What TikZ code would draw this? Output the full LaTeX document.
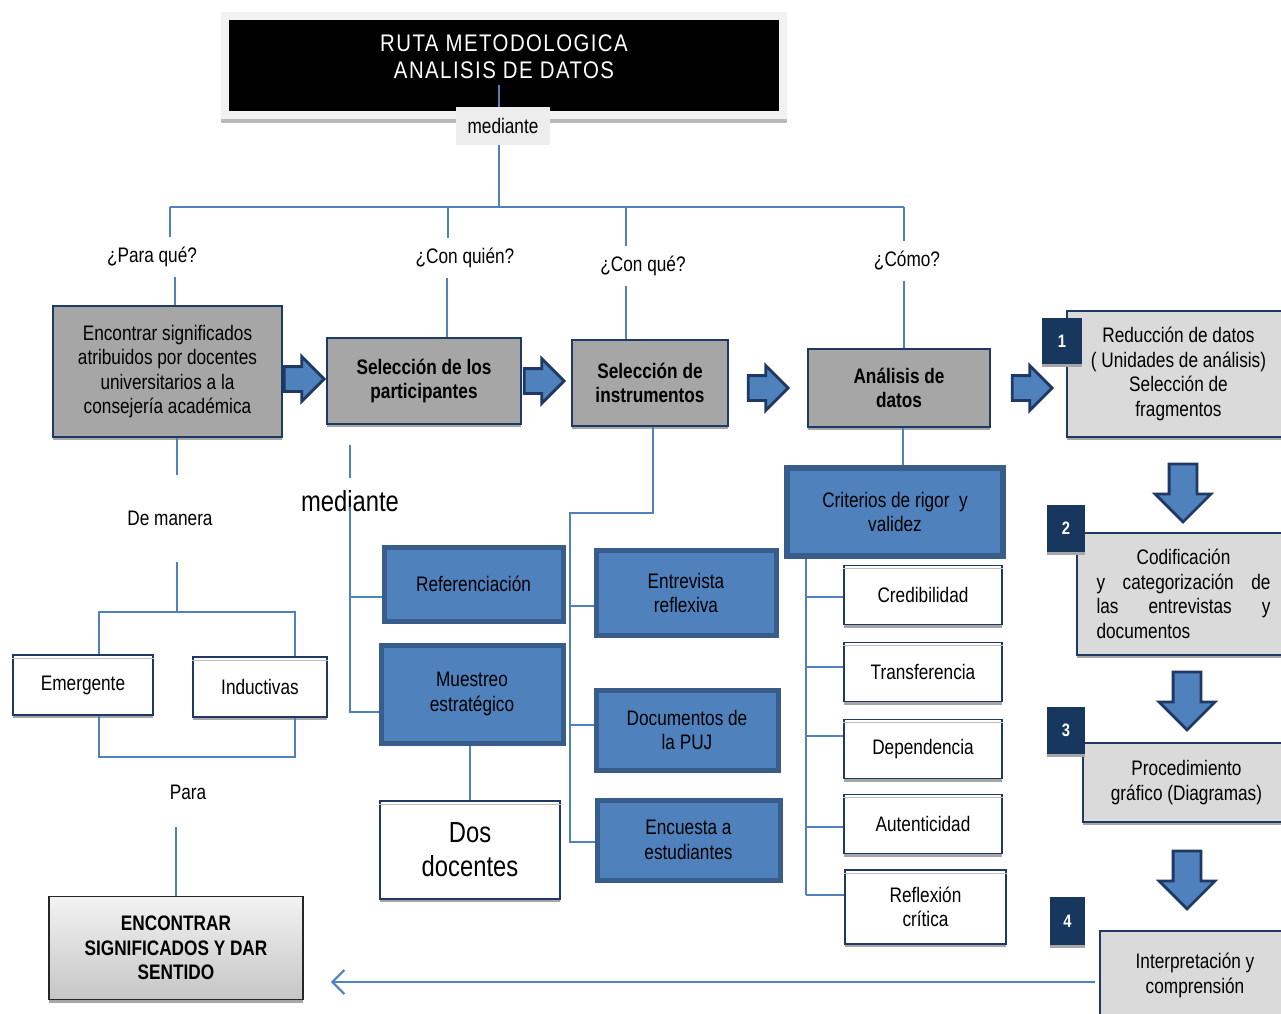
\documentclass[tikz,border=0pt]{standalone}
\usepackage{fontspec}
\setmainfont{Liberation Sans}[FakeStretch=0.82]
\newfontfamily\titlefont{Liberation Sans}[FakeStretch=0.85,LetterSpace=6]
\usetikzlibrary{shapes.arrows,shadows,arrows.meta,positioning}
\definecolor{navy}{RGB}{31,56,100}
\definecolor{badgeblue}{RGB}{23,55,94}
\definecolor{midblue}{RGB}{79,129,189}
\definecolor{edgeblue}{RGB}{56,93,138}
\definecolor{boxgray}{RGB}{166,166,166}
\definecolor{lightgray}{RGB}{218,218,218}
\newcommand{\fsz}{\fontsize{21pt}{24.5pt}\selectfont}
\newcommand{\fbig}{\fontsize{29pt}{34pt}\selectfont}
\tikzset{
  link/.style={draw=midblue,line width=2.2pt},
  shade box/.style={drop shadow={shadow xshift=0pt,shadow yshift=-3pt,fill=gray!70,opacity=1}},
  graybox/.style={draw=navy,line width=1.6pt,fill=boxgray,align=center,font=\fsz,inner sep=0pt,shade box},
  lightbox/.style={draw=navy,line width=1.6pt,fill=lightgray,align=center,font=\fsz,inner sep=0pt,shade box},
  bluebox/.style={draw=edgeblue,line width=5pt,fill=midblue,align=center,font=\fsz,inner sep=0pt},
  whitebox/.style={draw=navy,line width=1.6pt,fill=white,align=center,font=\fsz,inner sep=0pt,shade box,
    append after command={([yshift=-4pt]\tikzlastnode.north west) edge[draw=gray!50,line width=1.4pt] ([yshift=-4pt]\tikzlastnode.north east)}},
  badge/.style={fill=badgeblue,text=white,font=\fontsize{18pt}{20pt}\selectfont\bfseries,inner sep=0pt,shade box},
  qlabel/.style={font=\fsz,inner sep=10pt},
  rarrow/.style={single arrow,draw=navy,line width=2.8pt,fill=midblue,inner xsep=0pt,inner ysep=11pt,
    minimum height=40pt,minimum width=42pt,single arrow head extend=10pt},
  darrow/.style={rarrow,shape border rotate=270,inner sep=12.5pt,minimum height=58pt,minimum width=54pt,single arrow head extend=14pt}
}
\begin{document}
\begin{tikzpicture}[x=1pt,y=-1pt]
\clip (0,0) rectangle (1281,1013);
\fill[white] (0,0) rectangle (1281,1013);
% title
\fill[gray!10] (221,12) rectangle (787,119);
\fill[gray!55] (221,119) rectangle (787,123);
\fill[black] (229,20) rectangle (779,111);
\node[text=white,align=center,inner sep=0pt,font=\titlefont\fontsize{24pt}{27pt}\selectfont] (title) at (504,57)
  {RUTA METODOLOGICA\\ANALISIS DE DATOS};
\node[fill=gray!14,font=\fsz,inner sep=0pt,minimum width=94pt,minimum height=38pt] (medlbl) at (503,126) {mediante};
\coordinate (ttop) at (499,85);
\coordinate (hub) at (499,207);
\coordinate (hl) at (170,207);
\coordinate (hr) at (904,207);
\coordinate (h2) at (448,207);
\coordinate (h3) at (626,207);
\draw[link] (ttop) -- (medlbl.north -| hub);
\draw[link] (medlbl.south -| hub) -- (hub);
\draw[link] (hl) -- (hr);

% questions
\node[qlabel] (qpara) at (152,257) {¿Para qué?};
\node[qlabel] (qquien) at (465,258) {¿Con quién?};
\node[qlabel] (qque) at (643,266) {¿Con qué?};
\node[qlabel] (qcomo) at (907,261) {¿Cómo?};

% main row
\node[graybox,minimum width=229pt,minimum height=131pt] (A) at (167.5,371.5)
  {Encontrar significados\\atribuidos por docentes\\universitarios a la\\consejería académica};
\node[graybox,font=\fsz\bfseries,minimum width=194pt,minimum height=86pt] (B) at (424,381) {Selección de los\\participantes};
\node[graybox,font=\fsz\bfseries,minimum width=156pt,minimum height=86pt] (C) at (650,383) {Selección de\\instrumentos};
\node[graybox,font=\fsz\bfseries,minimum width=182pt,minimum height=78pt] (D) at (899,388) {Análisis de\\datos};
\node[rarrow] (ar1) at (298,379) {};
\node[rarrow] (ar2) at (538,381) {};
\node[rarrow] (ar3) at (762,388) {};
\node[rarrow] (ar4) at (1026,388) {};

\draw[link] (hl) -- (qpara.north -| hl);
\draw[link] (h2) -- (qquien.north -| h2);
\draw[link] (h3) -- (qque.north -| h3);
\draw[link] (hr) -- (qcomo.north -| hr);
\draw[link] (qpara.south -| 175,0) -- (A.north -| 175,0);
\draw[link] (qquien.south -| 447,0) -- (B.north -| 447,0);
\draw[link] (qque.south -| h3) -- (C.north -| h3);
\draw[link] (qcomo.south -| hr) -- (D.north -| hr);

% steps on the right
\node[lightbox,minimum width=223pt,minimum height=126pt] (p1) at (1178.5,374)
  {Reducción de datos\\( Unidades de análisis)\\Selección de\\fragmentos};
\node[badge,minimum width=40pt,minimum height=46pt] (b1) at (1062,341) {1};
\node[darrow] (dar1) at (1183,486) {};
\node[lightbox,minimum width=213pt,minimum height=122pt] (p2) at (1183.5,594)
  {Codificación\\\makebox[174pt][s]{y\hfill categorización\hfill de}\\
   \makebox[174pt][s]{las\hfill entrevistas\hfill y}\\\makebox[174pt][l]{documentos}};
\node[badge,minimum width=38pt,minimum height=47pt] (b2) at (1066,528.5) {2};
\node[darrow] (dar2) at (1187,694) {};
\node[lightbox,minimum width=207pt,minimum height=79pt] (p3) at (1186.5,782.5) {Procedimiento\\gráfico (Diagramas)};
\node[badge,minimum width=38pt,minimum height=47pt] (b3) at (1066,730.5) {3};
\node[darrow] (dar3) at (1187,873) {};
\node[lightbox,minimum width=190pt,minimum height=89pt] (p4) at (1195,975.5) {Interpretación y\\comprensión};
\node[badge,minimum width=35pt,minimum height=48pt] (b4) at (1067.5,921) {4};

% left branch
\node[font=\fsz,minimum height=87pt,inner sep=0pt] (demanera) at (170,518.5) {De manera};
\node[whitebox,minimum width=140pt,minimum height=60pt] (emer) at (83,685) {Emergente};
\node[whitebox,minimum width=134pt,minimum height=60pt] (induc) at (260,687) {Inductivas};
\node[font=\fsz,minimum height=70pt,inner sep=0pt] (para) at (188,792) {Para};
\node[draw=black!85,line width=1.6pt,top color=gray!10,bottom color=gray!45,align=center,
  font=\fsz\bfseries,inner sep=0pt,minimum width=254pt,minimum height=103pt,shade box] (final) at (176,948)
  {ENCONTRAR\\SIGNIFICADOS Y DAR\\SENTIDO};
\coordinate (jtop) at (177,612);
\coordinate (jl) at (99,612);
\coordinate (jr) at (295,612);
\coordinate (kl) at (99,757);
\coordinate (kr) at (295,757);
\draw[link] (A.south -| jtop) -- (demanera.north -| jtop);
\draw[link] (demanera.south -| jtop) -- (jtop);
\draw[link] (emer.north -| jl) -- (jl) -- (jr) -- (induc.north -| jr);
\draw[link] (emer.south -| kl) -- (kl) -- (kr) -- (induc.south -| kr);
\draw[link] (para.south -| final.north) -- (final.north);

% participants
\node[font=\fbig,minimum height=46pt,inner sep=0pt] (med2) at (350,501) {mediante};
\node[bluebox,minimum width=179pt,minimum height=74pt] (ref) at (473.5,584) {Referenciación};
\node[bluebox,minimum width=182pt,minimum height=98pt] (muest) at (472,694) {Muestreo\\estratégico};
\node[whitebox,font=\fbig,minimum width=180pt,minimum height=98pt] (dos) at (470,850) {Dos\\docentes};
\coordinate (mbtop) at (350,445);
\coordinate (mref) at (350,597);
\coordinate (mmue) at (350,712);
\draw[link] (mbtop) -- (med2.north);
\draw[link] ([yshift=-6pt]med2.center) -- (mmue) -- (muest.west |- mmue);
\draw[link] (mref) -- (ref.west |- mref);
\draw[link] (muest.south -| dos.north) -- (dos.north);

% instruments
\node[bluebox,minimum width=180pt,minimum height=85pt] (entr) at (686,593) {Entrevista\\reflexiva};
\node[bluebox,minimum width=182pt,minimum height=80pt] (docs) at (687,730) {Documentos de\\la PUJ};
\node[bluebox,minimum width=183pt,minimum height=80pt] (encu) at (688.5,840) {Encuesta a\\estudiantes};
\coordinate (ij) at (653,513);
\coordinate (il) at (570,513);
\coordinate (ie) at (570,606);
\coordinate (id) at (570,725);
\coordinate (iu) at (570,842);
\draw[link] (C.south -| ij) -- (ij) -- (il) -- (iu) -- (encu.west |- iu);
\draw[link] (ie) -- (entr.west |- ie);
\draw[link] (id) -- (docs.west |- id);

% criteria
\node[bluebox,line width=6pt,minimum width=216pt,minimum height=88pt] (crit) at (895,512) {Criterios de rigor~ y\\validez};
\node[whitebox,minimum width=158pt,minimum height=59pt] (cred) at (923,595) {Credibilidad};
\node[whitebox,minimum width=158pt,minimum height=59pt] (trans) at (923,672) {Transferencia};
\node[whitebox,minimum width=158pt,minimum height=59pt] (dep) at (923,749) {Dependencia};
\node[whitebox,minimum width=158pt,minimum height=59pt] (aut) at (923,824) {Autenticidad};
\node[whitebox,minimum width=161pt,minimum height=74pt] (refl) at (925.5,907) {Reflexión\\crítica};
\coordinate (dx) at (903,0);
\coordinate (cv) at (806,895);
\draw[link] (D.south -| dx) -- (crit.north -| dx);
\draw[link] (crit.south -| cv) -- (cv);
\foreach \b/\y in {cred/597,trans/667,dep/736,aut/827,refl/895}
  \draw[link] (806,\y) -- (\b.west |- 806,\y);

% back to the goal
\coordinate (back) at (1095,982);
\draw[link,shorten >=27pt,-{Straight Barb[length=12pt,width=24pt]}] (back) -- (final.east |- back);
\end{tikzpicture}
\end{document}
